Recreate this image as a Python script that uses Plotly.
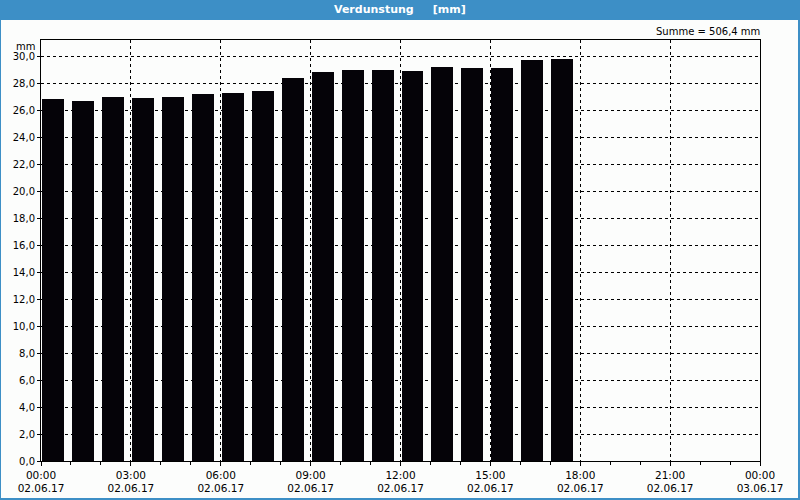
import plotly.graph_objects as go
from datetime import datetime, timedelta

# Data
hours = list(range(18))
values = [26.8, 26.7, 27.0, 26.9, 27.0, 27.2, 27.3, 27.4, 28.4, 28.8,
          29.0, 29.0, 28.9, 29.2, 29.1, 29.1, 29.7, 29.8]
tick_hours = [0, 3, 6, 9, 12, 15, 18, 21, 24]
tick_labels = ["00:00<br>02.06.17", "03:00<br>02.06.17", "06:00<br>02.06.17",
               "09:00<br>02.06.17", "12:00<br>02.06.17", "15:00<br>02.06.17",
               "18:00<br>02.06.17", "21:00<br>02.06.17", "00:00<br>03.06.17"]
title_text = "Verdunstung     [mm]"
sum_text = "Summe = 506,4 mm"

base = datetime(2017, 6, 2, 0, 0)
x = [base + timedelta(hours=h) for h in hours]
tickvals = [base + timedelta(hours=h) for h in tick_hours]

HOUR_MS = 3600000
FONT = dict(family="DejaVu Sans", size=10, color="#000")
XFONT = dict(family="DejaVu Sans", size=10.5, color="#000")

fig = go.Figure()
fig.add_trace(go.Bar(
    x=x, y=values,
    width=HOUR_MS * 22 / 30,
    offset=HOUR_MS * 1 / 30,
    marker=dict(color="#050308", line=dict(width=0)),
))

# Layout in pixels
L, R, T, B = 41, 40, 40, 39
W, H = 800, 500
pw = W - L - R
ph = H - T - B


def px_x(p):
    return (p - L) / pw


def px_y(p):
    return (H - B - p) / ph


blue = "#3d8fc6"

fig.update_layout(
    width=W, height=H,
    margin=dict(l=L, r=R, t=T, b=B, pad=0, autoexpand=False),
    paper_bgcolor=blue,
    plot_bgcolor="#fcfdfc",
    separators=",.",
    showlegend=False,
    bargap=0,
    font=FONT,
    shapes=[
        dict(type="rect", xref="paper", yref="paper",
             x0=px_x(1), x1=px_x(798), y0=px_y(498), y1=px_y(20),
             fillcolor="#fcfdfc", line=dict(width=0), layer="below"),
    ],
    annotations=[
        dict(text="<b>" + title_text.replace(" ", "&nbsp;") + "</b>", xref="paper", yref="paper",
             x=px_x(400), y=px_y(10), xanchor="center", yanchor="middle",
             showarrow=False, font=dict(family="DejaVu Sans", size=11, color="white")),
        dict(text=sum_text, xref="paper", yref="paper",
             x=px_x(762), y=px_y(32), xanchor="right", yanchor="middle",
             showarrow=False, font=FONT),
        dict(text="mm", xref="paper", yref="paper",
             x=px_x(37), y=px_y(46), xanchor="right", yanchor="middle",
             showarrow=False, font=FONT),
    ],
)

fig.update_xaxes(
    type="date",
    range=[base, base + timedelta(hours=24)],
    tickmode="array", tickvals=tickvals, ticktext=tick_labels,
    ticks="outside", ticklen=4, tickcolor="black",
    ticklabelstandoff=0,
    showgrid=True, gridcolor="black", gridwidth=1, griddash="3px,3px",
    showline=True, linecolor="black", linewidth=1, mirror=True,
    minor=dict(dtick=HOUR_MS, ticks="outside", ticklen=3, tickcolor="black", showgrid=False),
    tickfont=XFONT,
    zeroline=False,
    automargin=False,
    fixedrange=True,
)
fig.update_yaxes(
    range=[0, 31.19],
    tick0=0, dtick=2, tickformat=".1f",
    ticks="outside", ticklen=3, tickcolor="black",
    showgrid=True, gridcolor="black", gridwidth=1, griddash="3px,3px",
    showline=True, linecolor="black", linewidth=1, mirror=True,
    tickfont=FONT,
    zeroline=False,
    automargin=False,
    fixedrange=True,
)

fig.write_html("out.html")
